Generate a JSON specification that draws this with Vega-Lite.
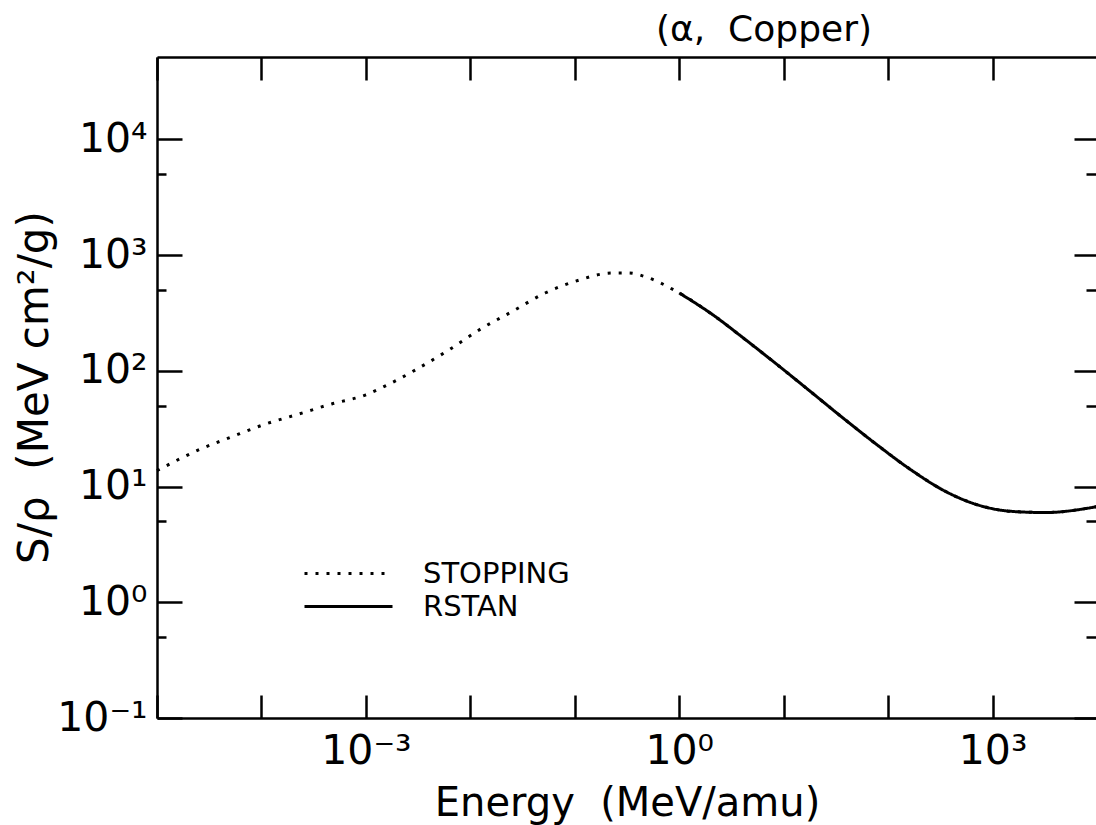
{
  "$schema": "https://vega.github.io/schema/vega-lite/v6.json",
  "width": 940,
  "height": 661,
  "autosize": "none",
  "padding": {"left": 157, "top": 57, "right": 0, "bottom": 107},
  "background": "white",
  "config": {
    "view": {"stroke": null},
    "font": "DejaVu Sans",
    "axis": {
      "domainColor": "black",
      "domainWidth": 2.5,
      "tickColor": "black",
      "tickWidth": 2.5,
      "grid": false,
      "labelColor": "black",
      "titleColor": "black",
      "labelFont": "DejaVu Sans",
      "titleFont": "DejaVu Sans",
      "titleFontWeight": "normal",
      "labelOverlap": false,
      "labelFlush": false
    }
  },
  "title": {
    "text": "(α, \u00a0Copper)",
    "fontSize": 36,
    "fontWeight": "normal",
    "font": "DejaVu Sans",
    "anchor": "middle",
    "dx": 137,
    "offset": 7,
    "color": "black"
  },
  "data": {
    "values": [
      {"E": 0.00001, "S": 13.7, "series": "STOPPING"},
      {"E": 0.000025, "S": 20.7, "series": "STOPPING"},
      {"E": 0.000052, "S": 26.9, "series": "STOPPING"},
      {"E": 0.00011, "S": 34.7, "series": "STOPPING"},
      {"E": 0.00023, "S": 42.4, "series": "STOPPING"},
      {"E": 0.00047, "S": 51.7, "series": "STOPPING"},
      {"E": 0.001, "S": 62, "series": "STOPPING"},
      {"E": 0.0014, "S": 71, "series": "STOPPING"},
      {"E": 0.003, "S": 102, "series": "STOPPING"},
      {"E": 0.0062, "S": 151, "series": "STOPPING"},
      {"E": 0.013, "S": 234, "series": "STOPPING"},
      {"E": 0.025, "S": 324, "series": "STOPPING"},
      {"E": 0.052, "S": 470, "series": "STOPPING"},
      {"E": 0.11, "S": 608, "series": "STOPPING"},
      {"E": 0.23, "S": 700, "series": "STOPPING"},
      {"E": 0.33, "S": 700, "series": "STOPPING"},
      {"E": 0.48, "S": 646, "series": "STOPPING"},
      {"E": 1.0, "S": 470, "series": "STOPPING"},
      {"E": 2.05, "S": 309, "series": "STOPPING"},
      {"E": 4.3, "S": 186, "series": "STOPPING"},
      {"E": 9.0, "S": 110, "series": "STOPPING"},
      {"E": 18.5, "S": 65, "series": "STOPPING"},
      {"E": 39, "S": 37.6, "series": "STOPPING"},
      {"E": 81, "S": 22.4, "series": "STOPPING"},
      {"E": 168, "S": 13.8, "series": "STOPPING"},
      {"E": 352, "S": 9.1, "series": "STOPPING"},
      {"E": 735, "S": 6.9, "series": "STOPPING"},
      {"E": 1520, "S": 6.1, "series": "STOPPING"},
      {"E": 3190, "S": 5.96, "series": "STOPPING"},
      {"E": 10000, "S": 6.7, "series": "STOPPING"},
      {"E": 1.0, "S": 470, "series": "RSTAN"},
      {"E": 2.05, "S": 309, "series": "RSTAN"},
      {"E": 4.3, "S": 186, "series": "RSTAN"},
      {"E": 9.0, "S": 110, "series": "RSTAN"},
      {"E": 18.5, "S": 65, "series": "RSTAN"},
      {"E": 39, "S": 37.6, "series": "RSTAN"},
      {"E": 81, "S": 22.4, "series": "RSTAN"},
      {"E": 168, "S": 13.8, "series": "RSTAN"},
      {"E": 352, "S": 9.1, "series": "RSTAN"},
      {"E": 735, "S": 6.9, "series": "RSTAN"},
      {"E": 1520, "S": 6.1, "series": "RSTAN"},
      {"E": 3190, "S": 5.96, "series": "RSTAN"},
      {"E": 10000, "S": 6.7, "series": "RSTAN"}
    ]
  },
  "layer": [
    {
      "mark": {"type": "line", "interpolate": "monotone", "strokeWidth": 3, "color": "black", "strokeCap": "butt"},
      "encoding": {
        "x": {
          "field": "E", "type": "quantitative",
          "scale": {"type": "log", "domain": [0.00001, 10000], "nice": false},
          "axis": {
            "orient": "bottom",
            "values": [0.00001, 0.0001, 0.001, 0.01, 0.1, 1, 10, 100, 1000, 10000],
            "tickSize": -23,
            "labelExpr": "datum.value == 0.001 ? '10⁻³' : datum.value == 1 ? '10⁰' : datum.value == 1000 ? '10³' : ''",
            "labelFontSize": 41,
            "labelPadding": 36,
            "title": "Energy \u00a0(MeV/amu)",
            "titleFontSize": 40,
            "titleY": 65,
            "titleBaseline": "top"
          }
        },
        "y": {
          "field": "S", "type": "quantitative",
          "scale": {"type": "log", "domain": [0.1, 51400], "nice": false},
          "axis": {
            "orient": "left",
            "values": [0.1, 1, 10, 100, 1000, 10000],
            "tickSize": -25,
            "labelExpr": "datum.value == 0.1 ? '10⁻¹' : datum.value == 1 ? '10⁰' : datum.value == 10 ? '10¹' : datum.value == 100 ? '10²' : datum.value == 1000 ? '10³' : '10⁴'",
            "labelFontSize": 41,
            "labelPadding": 35,
            "title": "S/ρ \u00a0(MeV cm²/g)",
            "titleFontSize": 42,
            "titleX": -110,
            "titleY": 330,
            "titleAngle": -90,
            "titleAlign": "center",
            "titleBaseline": "alphabetic"
          }
        },
        "strokeDash": {
          "field": "series", "type": "nominal",
          "scale": {"domain": ["STOPPING", "RSTAN"], "range": [[3, 8], [1, 0]]},
          "legend": {
            "orient": "none",
            "legendX": 146,
            "legendY": 500,
            "title": null,
            "symbolType": "stroke",
            "symbolSize": 7744,
            "symbolStrokeWidth": 3,
            "symbolStrokeColor": "black",
            "labelFontSize": 29,
            "labelFont": "DejaVu Sans",
            "labelColor": "black",
            "labelOffset": 29,
            "clipHeight": 33,
            "rowPadding": 0,
            "padding": 0
          }
        }
      }
    },
    {
      "mark": {"type": "point", "opacity": 0},
      "encoding": {
        "x": {"field": "E", "type": "quantitative", "axis": {"orient": "top", "values": [0.00001, 0.0001, 0.001, 0.01, 0.1, 1, 10, 100, 1000, 10000], "tickSize": -23, "labels": false, "title": null}},
        "y": {"field": "S", "type": "quantitative", "axis": {"orient": "right", "values": [0.1, 1, 10, 100, 1000, 10000], "tickSize": -23, "labels": false, "title": null}}
      }
    },
    {
      "mark": {"type": "point", "opacity": 0},
      "encoding": {
        "x": {"field": "E", "type": "quantitative", "axis": null},
        "y": {"field": "S", "type": "quantitative", "axis": {"orient": "left", "values": [0.5, 5, 50, 500, 5000], "tickSize": -9, "labels": false, "domain": false, "title": null}}
      }
    },
    {
      "mark": {"type": "point", "opacity": 0},
      "encoding": {
        "x": {"field": "E", "type": "quantitative", "axis": null},
        "y": {"field": "S", "type": "quantitative", "axis": {"orient": "right", "values": [0.5, 5, 50, 500, 5000], "tickSize": -11, "labels": false, "domain": false, "title": null}}
      }
    }
  ],
  "resolve": {"axis": {"x": "independent", "y": "independent"}}
}
